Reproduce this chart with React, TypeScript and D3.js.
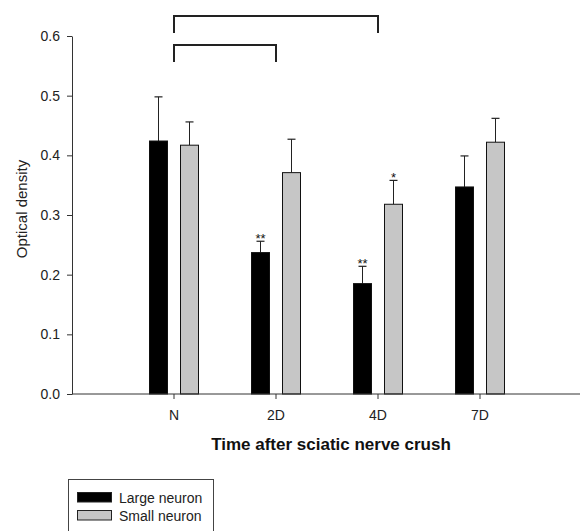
import React, { useEffect, useRef } from "react";
import * as d3 from "d3";

// categories and series values
const categories = ["N", "2D", "4D", "7D"];
const largeMeans = [0.424, 0.237, 0.185, 0.347];
const largeErr = [0.074, 0.019, 0.029, 0.052];
const smallMeans = [0.417, 0.371, 0.318, 0.422];
const smallErr = [0.039, 0.056, 0.04, 0.04];
const largeMarks = ["", "**", "**", ""];
const smallMarks = ["", "", "*", ""];
const yTicks = [0, 0.1, 0.2, 0.3, 0.4, 0.5, 0.6];
// brackets: [from category, to category, level]
const brackets: [string, string, number][] = [
  ["N", "4D", 0],
  ["N", "2D", 1],
];

const W = 582;
const H = 531;
const font = "'Liberation Sans', Arial, sans-serif";

const App = () => {
  const ref = useRef<SVGSVGElement>(null);

  useEffect(() => {
    const svg = d3.select(ref.current);
    svg.selectAll("*").remove();

    const left = 72;
    const right = 580;
    const top = 36;
    const bottom = 394;

    // category positions: slots 0..5, categories at 1..4
    const x = d3.scaleLinear().domain([0, 5]).range([left, left + 5 * 102]);
    const y = d3.scaleLinear().domain([0, 0.6]).range([bottom, top]);
    const cx = (c: string) => x(categories.indexOf(c) + 1);

    const barW = 19;
    const off = 15.5;

    const g = svg.append("g");

    const series = [
      { means: largeMeans, err: largeErr, marks: largeMarks, fill: "#000", dx: -off },
      { means: smallMeans, err: smallErr, marks: smallMarks, fill: "#c6c6c6", dx: off },
    ];

    series.forEach((s) => {
      categories.forEach((c, i) => {
        const xc = cx(c) + s.dx;
        const v = s.means[i];
        const ve = v + s.err[i];
        // error bar (upper only)
        g.append("line")
          .attr("x1", xc).attr("x2", xc)
          .attr("y1", y(v)).attr("y2", y(ve))
          .attr("stroke", "#222").attr("stroke-width", 1);
        g.append("line")
          .attr("x1", xc - 4).attr("x2", xc + 4)
          .attr("y1", y(ve)).attr("y2", y(ve))
          .attr("stroke", "#222").attr("stroke-width", 1.2);
        g.append("rect")
          .attr("x", xc - barW / 2 + 0.5)
          .attr("y", y(v))
          .attr("width", barW - 1)
          .attr("height", y(0) - y(v))
          .attr("fill", s.fill)
          .attr("stroke", "#111")
          .attr("stroke-width", 1);
        if (s.marks[i]) {
          g.append("text")
            .attr("x", xc)
            .attr("y", y(ve) + 2)
            .attr("text-anchor", "middle")
            .attr("font-family", font)
            .attr("font-size", 13)
            .attr("fill", "#111")
            .text(s.marks[i]);
        }
      });
    });

    // y axis
    const yAxis = g.append("g").attr("transform", `translate(${left},0)`)
      .call(d3.axisLeft(y).tickValues(yTicks).tickFormat(d3.format(".1f")).tickSize(5).tickSizeOuter(0).tickPadding(7));
    yAxis.select(".domain").attr("stroke", "#333");
    yAxis.selectAll(".tick line").attr("stroke", "#333");
    yAxis.selectAll("text").attr("font-family", font).attr("font-size", 14).attr("fill", "#222");

    // x axis
    g.append("line")
      .attr("x1", left).attr("x2", right)
      .attr("y1", bottom).attr("y2", bottom)
      .attr("stroke", "#333");
    categories.forEach((c) => {
      g.append("line")
        .attr("x1", cx(c)).attr("x2", cx(c))
        .attr("y1", bottom).attr("y2", bottom + 5)
        .attr("stroke", "#333");
      g.append("text")
        .attr("x", cx(c))
        .attr("y", 420)
        .attr("text-anchor", "middle")
        .attr("font-family", font)
        .attr("font-size", 14)
        .attr("fill", "#222")
        .text(c);
    });

    // axis titles
    g.append("text")
      .attr("transform", `translate(27,209) rotate(-90)`)
      .attr("text-anchor", "middle")
      .attr("font-family", font)
      .attr("font-size", 15)
      .attr("fill", "#222")
      .text("Optical density");
    g.append("text")
      .attr("x", 331)
      .attr("y", 450)
      .attr("text-anchor", "middle")
      .attr("font-family", font)
      .attr("font-size", 17)
      .attr("font-weight", "bold")
      .attr("fill", "#111")
      .text("Time after sciatic nerve crush");

    // significance brackets
    brackets.forEach(([a, b, lvl]) => {
      const yt = lvl === 0 ? 16 : 45;
      const x1 = cx(a);
      const x2 = cx(b);
      g.append("path")
        .attr("d", `M${x1},${yt + 17}V${yt}H${x2}V${yt + 17}`)
        .attr("fill", "none")
        .attr("stroke", "#222")
        .attr("stroke-width", 2);
    });

    // legend
    const lg = g.append("g");
    lg.append("rect")
      .attr("x", 68.5).attr("y", 479.5)
      .attr("width", 145).attr("height", 70)
      .attr("fill", "#fff").attr("stroke", "#444");
    const items = [
      { label: "Large neuron", fill: "#000" },
      { label: "Small neuron", fill: "#c6c6c6" },
    ];
    items.forEach((it, i) => {
      const yy = 492 + i * 18;
      lg.append("rect")
        .attr("x", 77.5).attr("y", yy + 0.5)
        .attr("width", 34).attr("height", 9.5)
        .attr("fill", it.fill).attr("stroke", "#222");
      lg.append("text")
        .attr("x", 119)
        .attr("y", yy + 10.5)
        .attr("font-family", font)
        .attr("font-size", 14)
        .attr("fill", "#222")
        .text(it.label);
    });
  }, []);

  return (
    <svg
      ref={ref}
      width={W}
      height={H}
      style={{ position: "absolute", left: 0, top: 0, background: "#fff" }}
    />
  );
};

export default App;
